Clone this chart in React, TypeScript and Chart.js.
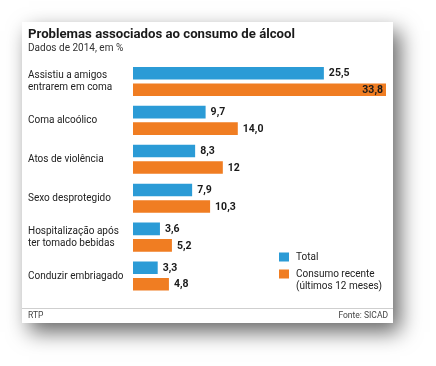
import React, { useEffect, useRef } from "react";
import { Chart, registerables } from "chart.js";

Chart.register(...registerables);

const TITLE = "Problemas associados ao consumo de álcool";
const SUBTITLE = "Dados de 2014, em %";
const categories: string[][] = [
  ["Assistiu a amigos", "entrarem em coma"],
  ["Coma alcoólico"],
  ["Atos de violência"],
  ["Sexo desprotegido"],
  ["Hospitalização após", "ter tomado bebidas"],
  ["Conduzir embriagado"],
];
const totalValues = [25.5, 9.7, 8.3, 7.9, 3.6, 3.3];
const recentValues = [33.8, 14.0, 12, 10.3, 5.2, 4.8];
const totalLabels = ["25,5", "9,7", "8,3", "7,9", "3,6", "3,3"];
const recentLabels = ["33,8", "14,0", "12", "10,3", "5,2", "4,8"];
const seriesNames = ["Total", ["Consumo recente", "(últimos 12 meses)"]];
const FOOT_LEFT = "RTP";
const FOOT_RIGHT = "Fonte: SICAD";

const BLUE = "#2b9bd6";
const ORANGE = "#f07d22";
const FONT = "Roboto, 'Liberation Sans', sans-serif";

const W = 436;
const H = 366;
const CARD = { x: 22, y: 22, w: 371, h: 301 };

export default function App() {
  const ref = useRef<HTMLCanvasElement>(null);
  useEffect(() => {
    document.body.style.margin = "0";
    const canvas = ref.current!;
    const cardPlugin = {
      id: "card",
      beforeDraw(chart: any) {
        const ctx = chart.ctx;
        ctx.save();
        ctx.fillStyle = "#ffffff";
        ctx.fillRect(0, 0, W, H);
        ctx.shadowColor = "rgba(0,0,0,0.6)";
        ctx.shadowBlur = 20;
        ctx.shadowOffsetX = 7;
        ctx.shadowOffsetY = 9;
        ctx.fillRect(CARD.x, CARD.y, CARD.w, CARD.h);
        ctx.restore();
        ctx.save();
        ctx.fillStyle = "#ffffff";
        ctx.fillRect(CARD.x, CARD.y, CARD.w, CARD.h);
        // title
        ctx.fillStyle = "#1a1a1a";
        ctx.textBaseline = "alphabetic";
        ctx.textAlign = "left";
        ctx.font = `bold 13.2px ${FONT}`;
        ctx.fillText(TITLE, 28, 38);
        ctx.font = `10px ${FONT}`;
        ctx.fillStyle = "#333";
        ctx.fillText(SUBTITLE, 28, 51);
        // footer
        ctx.strokeStyle = "#cfcfcf";
        ctx.lineWidth = 1;
        ctx.beginPath();
        ctx.moveTo(CARD.x, 308.5);
        ctx.lineTo(CARD.x + CARD.w, 308.5);
        ctx.stroke();
        ctx.font = `8.5px ${FONT}`;
        ctx.fillStyle = "#444";
        ctx.textBaseline = "middle";
        ctx.fillText(FOOT_LEFT, 28, 315.5);
        ctx.textAlign = "right";
        ctx.fillText(FOOT_RIGHT, 388, 315.5);
        // category labels
        const yScale = chart.scales.y;
        ctx.textAlign = "left";
        ctx.font = `10px ${FONT}`;
        ctx.fillStyle = "#222";
        categories.forEach((lines, i) => {
          const cy = yScale.getPixelForValue(i);
          const lh = 12;
          const start = cy - ((lines.length - 1) * lh) / 2;
          lines.forEach((l, j) => ctx.fillText(l, 28, start + j * lh));
        });
        // legend
        const colors = [BLUE, ORANGE];
        const ly = [257, 274];
        seriesNames.forEach((name, i) => {
          ctx.fillStyle = colors[i];
          ctx.fillRect(279, ly[i] - 4.5, 10, 9);
          ctx.fillStyle = "#222";
          const lines = Array.isArray(name) ? name : [name];
          lines.forEach((l, j) => ctx.fillText(l, 296, ly[i] + j * 12));
        });
        ctx.restore();
      },
      afterDatasetsDraw(chart: any) {
        const ctx = chart.ctx;
        const area = chart.chartArea;
        ctx.save();
        ctx.font = `bold 10.5px ${FONT}`;
        ctx.textBaseline = "middle";
        const labelSets = [totalLabels, recentLabels];
        chart.data.datasets.forEach((ds: any, di: number) => {
          const meta = chart.getDatasetMeta(di);
          meta.data.forEach((bar: any, i: number) => {
            const txt = labelSets[di][i];
            const tw = ctx.measureText(txt).width;
            ctx.fillStyle = "#1a1a1a";
            if (bar.x + 5 + tw > area.right + 2) {
              ctx.textAlign = "right";
              ctx.fillText(txt, bar.x - 3, bar.y + 0.5);
            } else {
              ctx.textAlign = "left";
              ctx.fillText(txt, bar.x + 5, bar.y + 0.5);
            }
          });
        });
        ctx.restore();
      },
    };
    const chart = new Chart(canvas, {
      type: "bar",
      data: {
        labels: categories.map((c) => c.join(" ")),
        datasets: [
          { label: "Total", data: totalValues, backgroundColor: BLUE },
          { label: "Consumo recente", data: recentValues, backgroundColor: ORANGE },
        ],
      },
      options: {
        indexAxis: "y",
        responsive: false,
        animation: false,
        devicePixelRatio: 1,
        categoryPercentage: 0.85,
        barPercentage: 0.76,
        layout: { padding: { left: 133, right: 50, top: 62, bottom: 70.5 } },
        plugins: { legend: { display: false }, tooltip: { enabled: false } },
        scales: {
          x: { display: false, min: 0, max: 33.8 },
          y: { display: false },
        },
      } as any,
      plugins: [cardPlugin],
    });
    return () => chart.destroy();
  }, []);
  return <canvas ref={ref} width={W} height={H} style={{ display: "block" }} />;
}
